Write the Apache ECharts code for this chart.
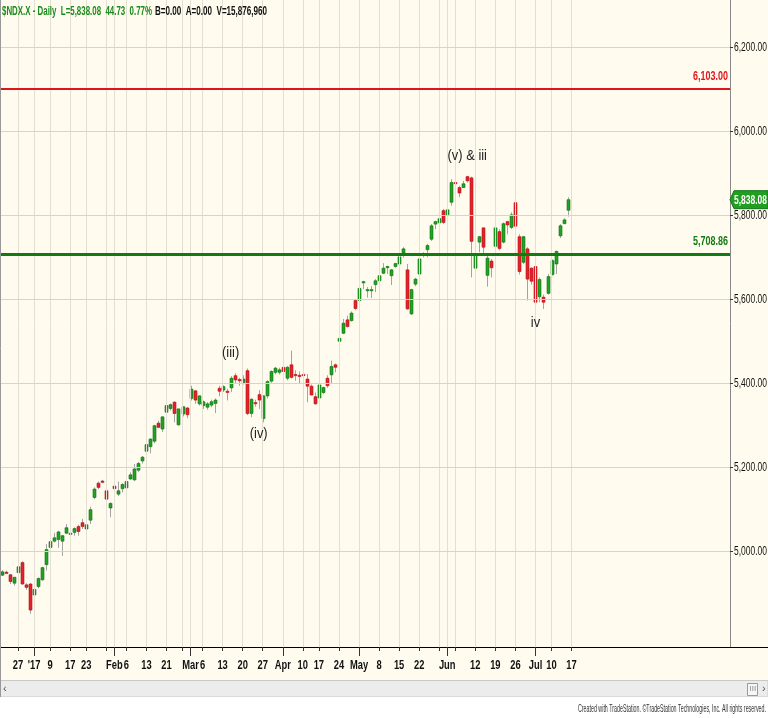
<!DOCTYPE html>
<html>
<head>
<meta charset="utf-8">
<script src="https://cdn.jsdelivr.net/npm/echarts@6/dist/echarts.min.js"></script>
<style>
html,body{margin:0;padding:0;background:#fffcef;}
#c{width:768px;height:718px;}
</style>
</head>
<body>
<div id="c"></div>
<script>
// ---------- DATA ----------
const dec16 = [20,21,22,23,27,28,29,30];
const jan17 = [3,4,5,6,9,10,11,12,13,17,18,19,20,23,24,25,26,27,30,31];
const feb17 = [1,2,3,6,7,8,9,10,13,14,15,16,17,21,22,23,24,27,28];
const mar17 = [1,2,3,6,7,8,9,10,13,14,15,16,17,20,21,22,23,24,27,28,29,30,31];
const apr17 = [3,4,5,6,7,10,11,12,13,17,18,19,20,21,24,25,26,27,28];
const may17 = [1,2,3,4,5,8,9,10,11,12,15,16,17,18,19,22,23,24,25,26,30,31];
const jun17 = [1,2,5,6,7,8,9,12,13,14,15,16,19,20,21,22,23,26,27,28,29,30];
const jul17 = [3,5,6,7,10,11,12,13,14];
// future (empty) sessions shown in the right margin
const julFuture = [17,18,19,20,21,24,25,26,27,28,31];
const augFuture = [1,2,3,4,7,8,9,10,11,14,15,16,17,18,21,22,23,24,25,28,29,30,31];
const sepFuture = [1,5,6,7,8,11];

const openV = [4944,4951,4945,4925,4950,4974,4921,4923,4897,4917,4933,4969,5010,5025,5029,5025,5044,5042,5046,5060,
5069,5054,5075,5129,5163,5168,5145,5104,5156,5137,5150,5152,5173,5171,5194,5216,5239,5250,5263,5306,
5292,5332,5341,5356,5302,5328,5342,5365,5383,5352,5348,5344,5349,5353,5389,5385,5382,5390,5419,5410,
5403,5431,5329,5355,5374,5317,5371,5406,5427,5427,5439,5413,5445,5422,5420,5422,5411,5394,5369,5366,
5379,5413,5421,5445,5501,5520,5552,5550,5598,5598,5642,5623,5623,5636,5645,5663,5678,5657,5679,5685,
5711,5671,5566,5637,5661,5710,5719,5744,5780,5783,5812,5802,5832,5879,5867,5867,5893,5890,5675,5737,
5771,5658,5692,5727,5762,5737,5786,5772,5831,5750,5689,5721,5675,5679,5607,5606,5615,5660,5685,5752,
5781,5813];
const highV = [4956,4955,4947,4940,4970,4977,4925,4925,4919,4939,4964,5018,5030,5045,5050,5040,5066,5050,5058,5064,
5078,5070,5107,5153,5167,5171,5149,5117,5160,5167,5163,5171,5189,5209,5214,5228,5258,5270,5302,5312,
5322,5350,5353,5358,5340,5346,5345,5395,5385,5372,5360,5356,5362,5365,5395,5396,5388,5418,5425,5414,
5420,5436,5365,5362,5385,5372,5408,5432,5440,5438,5445,5442,5479,5432,5429,5438,5423,5398,5379,5399,
5392,5420,5455,5448,5510,5554,5562,5572,5602,5630,5645,5630,5632,5649,5661,5687,5681,5673,5688,5704,
5725,5685,5626,5652,5699,5713,5733,5780,5788,5798,5816,5816,5887,5887,5871,5883,5895,5893,5716,5752,
5772,5705,5697,5776,5768,5784,5788,5808,5845,5756,5752,5725,5677,5681,5653,5612,5661,5696,5717,5780,
5794,5844];
const lowV = [4942,4947,4923,4919,4946,4921,4909,4852,4883,4913,4931,4955,5008,5022,5009,4990,5042,5022,5038,5038,
5054,5030,5066,5125,5149,5163,5094,5082,5125,5133,5141,5145,5171,5168,5190,5210,5235,5234,5258,5294,
5285,5330,5336,5308,5300,5322,5318,5360,5352,5348,5340,5338,5344,5330,5370,5380,5360,5380,5400,5395,
5398,5325,5320,5345,5340,5308,5365,5402,5422,5422,5399,5408,5412,5407,5399,5415,5356,5372,5350,5364,
5375,5390,5400,5427,5493,5518,5534,5548,5575,5595,5625,5605,5604,5618,5637,5661,5661,5635,5676,5682,
5700,5576,5564,5632,5658,5701,5701,5740,5768,5780,5780,5776,5824,5871,5844,5866,5879,5653,5629,5713,
5705,5631,5653,5721,5717,5734,5756,5768,5768,5660,5685,5598,5636,5591,5594,5578,5612,5657,5661,5747,
5780,5798];
const closeV = [4952,4949,4929,4939,4964,4923,4915,4861,4910,4936,4962,5005,5024,5033,5047,5038,5057,5044,5055,5048,
5060,5064,5100,5149,5153,5166,5125,5115,5150,5145,5160,5167,5183,5197,5210,5225,5255,5268,5300,5296,
5321,5348,5350,5329,5340,5345,5326,5387,5361,5371,5357,5352,5357,5361,5382,5393,5381,5413,5409,5407,
5411,5329,5363,5354,5361,5371,5405,5429,5437,5433,5429,5439,5415,5420,5418,5420,5394,5373,5352,5397,
5391,5395,5441,5439,5508,5544,5536,5568,5579,5627,5643,5624,5624,5645,5657,5675,5679,5671,5686,5702,
5721,5578,5624,5649,5697,5709,5729,5776,5786,5793,5784,5814,5879,5878,5854,5876,5883,5739,5707,5750,
5725,5699,5676,5771,5722,5781,5778,5802,5775,5667,5750,5649,5644,5594,5648,5594,5655,5693,5715,5776,
5790,5838.08];

// horizontal levels
const resistanceLevel = 6103.00;
const supportLevel = 5708.86;
const lastPrice = 5838.08;
const yTickValues = [5000,5200,5400,5600,5800,6000,6200];

// week/month starts (vertical grid + ticks) and their labels
const gridDates = ['2016-12-27','2017-01-03','2017-01-09','2017-01-17','2017-01-23','2017-01-30','2017-02-01','2017-02-06',
'2017-02-13','2017-02-21','2017-02-27','2017-03-01','2017-03-06','2017-03-13','2017-03-20','2017-03-27','2017-04-03',
'2017-04-10','2017-04-17','2017-04-24','2017-05-01','2017-05-08','2017-05-15','2017-05-22','2017-05-30','2017-06-01',
'2017-06-05','2017-06-12','2017-06-19','2017-06-26','2017-07-03','2017-07-10','2017-07-17'];
const monthStartDates = ['2017-01-03','2017-02-01','2017-03-01','2017-04-03','2017-05-01','2017-06-01','2017-07-03'];
const tickLabelDates = ['2016-12-27','2017-01-03','2017-01-09','2017-01-17','2017-01-23','2017-02-01','2017-02-06','2017-02-13',
'2017-02-21','2017-03-01','2017-03-06','2017-03-13','2017-03-20','2017-03-27','2017-04-03','2017-04-10','2017-04-17',
'2017-04-24','2017-05-01','2017-05-08','2017-05-15','2017-05-22','2017-06-01','2017-06-12','2017-06-19','2017-06-26',
'2017-07-03','2017-07-10','2017-07-17'];
const tickLabelTexts = ['27',"'17",'9','17','23','Feb','6','13','21','Mar','6','13','20','27','Apr','10','17','24','May',
'8','15','22','Jun','12','19','26','Jul','10','17'];

// wave annotations
const annDates = ['2017-06-08','2017-03-15','2017-03-24','2017-07-03'];
const annValues = [5943, 5474, 5281, 5545];
const annTexts = ['(v) & iii','(iii)','(iv)','iv'];

const headerGreen = '$NDX.X - Daily  L=5,838.08  44.73  0.77%';
const headerBlack = 'B=0.00  A=0.00  V=15,876,960';
const footerText = 'Created with TradeStation. \u00A9TradeStation Technologies, Inc. All rights reserved.';

// ---------- BUILD ----------
function mk(y, m, days){ return days.map(d => y + '-' + String(m).padStart(2,'0') + '-' + String(d).padStart(2,'0')); }
const categories = [].concat(
  mk(2016,12,dec16), mk(2017,1,jan17), mk(2017,2,feb17), mk(2017,3,mar17), mk(2017,4,apr17),
  mk(2017,5,may17), mk(2017,6,jun17), mk(2017,7,jul17), mk(2017,7,julFuture), mk(2017,8,augFuture), mk(2017,9,sepFuture)
);
const candleData = openV.map((o,i) => [i, o, closeV[i], lowV[i], highV[i]]);
const gridSet = new Set(gridDates);
const monthSet = new Set(monthStartDates);

const FAM = '"Liberation Sans", Arial, sans-serif';
const fmt = v => v.toLocaleString('en-US',{minimumFractionDigits:2, maximumFractionDigits:2});

const mctx = document.createElement('canvas').getContext('2d');
function textW(t, font){ mctx.font = font; return mctx.measureText(t).width; }
// condensed text (the original uses a narrow face)
function nt(text, x, y, font, scale, align, vAlign, fill, z){
  return {type: 'text', x: x, y: y, scaleX: scale, z: z || 20, silent: true,
    style: {text: text, font: font, fill: fill, align: align, verticalAlign: vAlign}};
}

const chart = echarts.init(document.getElementById('c'), null, {renderer:'canvas'});
const option = {
  backgroundColor: '#fffcef',
  animation: false,
  grid: {left: 0, right: 38, top: 0, bottom: 71, outerBoundsMode: 'none', containLabel: false},
  xAxis: [{
    type: 'category',
    data: categories,
    boundaryGap: true,
    position: 'bottom',
    axisLine: {show: true, lineStyle: {color: '#000', width: 1}},
    axisTick: {show: true, alignWithLabel: true, length: 4, lineStyle: {color: '#333'},
      interval: (i, v) => gridSet.has(v)},
    axisLabel: {show: false},
    splitLine: {show: false}
  }, {
    type: 'category',
    data: categories,
    boundaryGap: true,
    position: 'bottom',
    offset: 0,
    axisLine: {show: false},
    axisTick: {show: true, alignWithLabel: true, length: 9, lineStyle: {color: '#333'},
      interval: (i, v) => monthSet.has(v)},
    axisLabel: {show: false},
    splitLine: {show: false}
  }],
  yAxis: {
    type: 'value',
    position: 'right',
    min: 4773, max: 6313.6,
    axisLine: {show: true, lineStyle: {color: '#888'}},
    axisTick: {show: true, length: 3, lineStyle: {color: '#333'}, customValues: yTickValues},
    axisLabel: {show: false},
    splitLine: {show: false}
  },
  series: [
    { // grid lines
      type: 'line', data: [], z: 1, silent: true,
      markLine: {
        silent: true, symbol: ['none','none'], label: {show: false}, animation: false,
        data: gridDates.map(d => ({xAxis: categories.indexOf(d), lineStyle: {color: '#e3e0d3', width: 1, type: 'solid'}}))
          .concat(yTickValues.map(v => ({yAxis: v, lineStyle: {color: '#c6dfc0', width: 1, type: 'solid'}})))
      }
    },
    { // candles
      type: 'custom', z: 3,
      data: candleData,
      encode: {x: 0, y: [1,2,3,4]},
      renderItem: function(params, api){
        const i = api.value(0);
        const o = api.value(1), c = api.value(2);
        const po = api.coord([i, o]), pc = api.coord([i, c]);
        const pl = api.coord([i, api.value(3)]), ph = api.coord([i, api.value(4)]);
        const up = c >= o;
        const top = Math.min(po[1], pc[1]);
        const h = Math.max(Math.abs(po[1]-pc[1]), 1.2);
        const x = Math.round(po[0]);
        return {type: 'group', children: [
          {type: 'line', shape: {x1: x+0.5, y1: ph[1], x2: x+0.5, y2: pl[1]}, style: {stroke: '#a3a3a3', lineWidth: 1}},
          {type: 'rect', shape: {x: x-1, y: top, width: 3, height: h},
            style: {fill: up ? '#22a322' : '#e4222b', stroke: up ? '#12701a' : '#b3141b', lineWidth: 0.6}}
        ]};
      }
    },
    { // levels
      type: 'line', data: [], z: 4, silent: true,
      markLine: {
        silent: true, symbol: ['none','none'], animation: false, label: {show: false},
        data: [
          {yAxis: resistanceLevel, lineStyle: {color: '#e0141c', width: 2, type: 'solid'}},
          {yAxis: supportLevel, lineStyle: {color: '#137a13', width: 3, type: 'solid'}}
        ]
      }
    }
  ]
};
chart.setOption(option);

// ---------- TEXT LAYER (positions from the chart's own scales) ----------
const px = (d) => chart.convertToPixel({xAxisIndex: 0}, d);
const py = (v) => chart.convertToPixel({yAxisIndex: 0}, v);
const BOLD13 = 'bold 13px ' + FAM;
const REG13 = '13px ' + FAM;
const REG15 = '15px ' + FAM;
const sX = 0.72;
const sY = 33 / textW('6,200.00', REG13);
const sLvl = 35 / textW('6,103.00', BOLD13);
const sPrice = 33 / textW(fmt(lastPrice), BOLD13);
const sAnn = 0.86;
const sG = 150 / textW(headerGreen, BOLD13);
const sB = 112 / textW(headerBlack, BOLD13);
const FFONT = '10px ' + FAM;
const sF = 188 / textW(footerText, FFONT);

const g = [];
// bottom chrome
g.push({type: 'line', shape: {x1: 730, y1: 647.5, x2: 768, y2: 647.5}, style: {stroke: '#000', lineWidth: 1}, z: 10});
g.push({type: 'rect', x: 0, y: 680.5, shape: {width: 768, height: 16.5}, style: {fill: '#ececec', stroke: '#c9c9c9'}, z: 10});
g.push({type: 'rect', x: 0, y: 697, shape: {width: 768, height: 21}, style: {fill: '#ffffff'}, z: 10});
g.push({type: 'text', x: 3, y: 683, style: {text: '\u2039', fill: '#555', font: '11px ' + FAM}, z: 11});
g.push({type: 'rect', x: 747.5, y: 683.5, shape: {width: 10, height: 12}, style: {fill: '#f6f6f6', stroke: '#9a9a9a'}, z: 11});
g.push({type: 'text', x: 749.5, y: 685, style: {text: 'III', fill: '#888', font: '8px ' + FAM}, z: 12});
g.push({type: 'text', x: 762, y: 683, style: {text: '\u203A', fill: '#555', font: '11px ' + FAM}, z: 11});
g.push({type: 'line', shape: {x1: 0.5, y1: 0, x2: 0.5, y2: 697}, style: {stroke: '#999', lineWidth: 1}, z: 11});
g.push(nt(footerText, 766, 704, FFONT, sF, 'right', 'top', '#333', 11));
// header
g.push(nt(headerGreen, 2, 5, BOLD13, sG, 'left', 'top', '#1c8a1c'));
g.push(nt(headerBlack, 155, 5, BOLD13, sB, 'left', 'top', '#111'));
// x-axis labels
tickLabelDates.forEach((d, i) => g.push(nt(tickLabelTexts[i], px(d), 659, BOLD13, sX, 'center', 'top', '#111')));
// y-axis labels
yTickValues.forEach(v => g.push(nt(fmt(v), 734, py(v), REG13, sY, 'left', 'middle', '#111')));
// level labels
g.push(nt(fmt(resistanceLevel), 728, py(resistanceLevel) - 6, BOLD13, sLvl, 'right', 'bottom', '#e0141c'));
g.push(nt(fmt(supportLevel), 728, py(supportLevel) - 6, BOLD13, sLvl, 'right', 'bottom', '#137a13'));
// last price tag
const yl = py(lastPrice);
g.push({type: 'polygon', shape: {points: [[730, yl], [734, yl - 9], [768, yl - 9], [768, yl + 9], [734, yl + 9]]},
  style: {fill: '#1f9e1f', stroke: '#14751a', lineWidth: 1}, z: 19});
g.push(nt(fmt(lastPrice), 734, yl + 0.5, BOLD13, sPrice, 'left', 'middle', '#ffffff'));
// wave annotations
annDates.forEach((d, i) => g.push(nt(annTexts[i], px(d), py(annValues[i]), REG15, sAnn, 'center', 'middle', '#222')));

chart.setOption({graphic: g});
</script>
</body>
</html>
